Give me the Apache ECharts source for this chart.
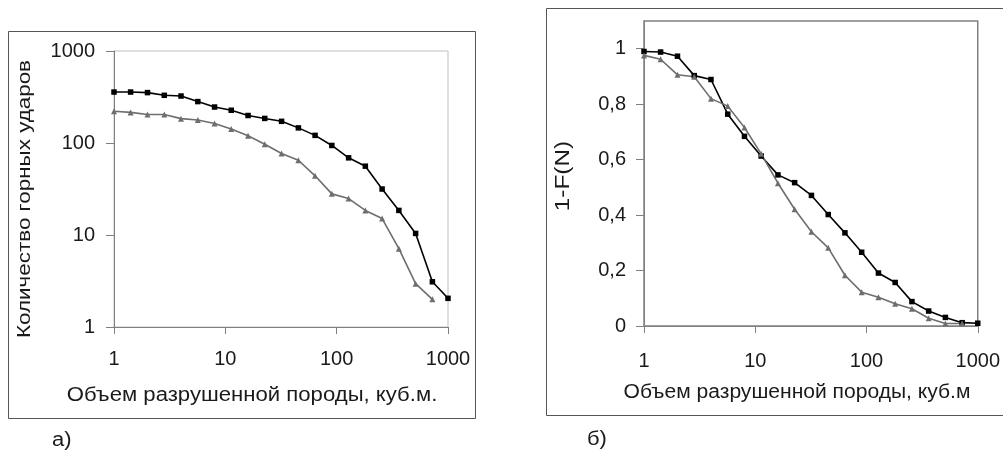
<!DOCTYPE html>
<html><head><meta charset="utf-8">
<script src="https://cdn.jsdelivr.net/npm/echarts@6/dist/echarts.min.js"></script>
<style>html,body{margin:0;padding:0;background:#fff}#c{width:1003px;height:451px}</style>
</head><body><div id="c"></div>
<script>
// x values (volume, cubic m)
const xVals = [1, 1.41, 2, 2.83, 4, 5.66, 8, 11.3, 16, 22.6, 32, 45.3, 64, 90.5, 128, 181, 256, 362, 512, 724, 1000];
// chart a) counts of rock bursts (log scale)
const countBlack = [358, 358, 353, 330, 324, 282, 246, 227, 199, 185, 172, 146, 121, 94, 69, 56, 31.6, 18.5, 10.4, 3.1, 2.05];
const countGray  = [221, 215, 204, 204, 184, 178, 163, 142, 120, 97, 77, 65, 44, 28, 24.9, 18.5, 15.1, 7.1, 2.96, 2.0];
// chart б) 1-F(N)
const survBlack = [0.99, 0.988, 0.973, 0.903, 0.889, 0.764, 0.684, 0.613, 0.545, 0.517, 0.471, 0.402, 0.336, 0.266, 0.191, 0.157, 0.088, 0.054, 0.031, 0.012, 0.01];
const survGray  = [0.976, 0.962, 0.906, 0.899, 0.82, 0.793, 0.716, 0.621, 0.515, 0.421, 0.34, 0.282, 0.183, 0.122, 0.104, 0.08, 0.062, 0.028, 0.009, 0.009];
const yTicksB = [0, 0.2, 0.4, 0.6, 0.8, 1];
const titleX_A = 'Объем разрушенной породы, куб.м.';
const titleY_A = 'Количество горных ударов';
const titleX_B = 'Объем разрушенной породы, куб.м';
const titleY_B = '1-F(N)';
const panelA = 'а)';
const panelB = 'б)';

const pair = (xs, ys) => ys.map((v, i) => [xs[i], v]);
const FONT = 'Liberation Sans';
const TXT = '#1a1a1a';

const chart = echarts.init(document.getElementById('c'), null, {renderer: 'canvas'});

function logX(grid) {
  return {
    type: 'log', logBase: 10, min: 1, max: 1000, gridIndex: grid,
    axisLine: {show: true, lineStyle: {color: '#808080', width: 1}},
    axisTick: {show: true, length: 7, inside: false, lineStyle: {color: '#808080'}},
    axisLabel: {fontFamily: FONT, fontSize: 20, color: TXT, margin: grid === 0 ? 22 : 25,
      formatter: v => String(Math.round(v))},
    splitLine: {show: false}, minorTick: {show: false}
  };
}
function mkSeries(data, grid, black) {
  return {
    type: 'line', xAxisIndex: grid, yAxisIndex: grid, data: data,
    symbol: black ? 'rect' : 'triangle', symbolSize: black ? 5.5 : 6,
    clip: false, animation: false,
    lineStyle: {color: black ? '#000' : '#6e6e6e', width: 1.6},
    itemStyle: {color: black ? '#000' : '#6e6e6e'}
  };
}
function txt(text, x, y, size, sx, rot, align) {
  return {type: 'text', x: x, y: y, rotation: rot || 0, scaleX: sx, scaleY: 1, silent: true,
    style: {text: text, fontFamily: FONT, fontSize: size, fill: TXT,
      textAlign: align || 'center', textVerticalAlign: 'middle'}};
}

chart.setOption({
  animation: false,
  backgroundColor: '#fff',
  grid: [
    {left: 114, top: 51, width: 334, height: 276, show: true, borderColor: '#c0c0c0', borderWidth: 1},
    {left: 644, top: 21, width: 336, height: 305, show: true, borderColor: '#808080', borderWidth: 1.5}
  ],
  xAxis: [logX(0), logX(1)],
  yAxis: [
    {
      type: 'log', logBase: 10, min: 1, max: 1000, gridIndex: 0,
      axisLine: {show: true, lineStyle: {color: '#808080'}},
      axisTick: {show: true, length: 8, lineStyle: {color: '#808080'}},
      axisLabel: {fontFamily: FONT, fontSize: 20, color: TXT, margin: 19, formatter: v => String(Math.round(v))},
      splitLine: {show: false}
    },
    {
      type: 'value', min: 0, max: 1.1, interval: 0.2, gridIndex: 1,
      axisLine: {show: true, lineStyle: {color: '#808080'}},
      axisTick: {show: true, length: 8, lineStyle: {color: '#808080'}, customValues: yTicksB},
      axisLabel: {fontFamily: FONT, fontSize: 20, color: TXT, margin: 18, customValues: yTicksB,
        formatter: v => String(Math.round(v * 10) / 10).replace('.', ',')},
      splitLine: {show: false}
    }
  ],
  series: [
    mkSeries(pair(xVals, countBlack), 0, true),
    mkSeries(pair(xVals, countGray), 0, false),
    mkSeries(pair(xVals, survBlack), 1, true),
    mkSeries(pair(xVals, survGray), 1, false)
  ],
  graphic: [
    {type: 'rect', shape: {x: 8.5, y: 31.5, width: 467, height: 387}, style: {fill: 'none', stroke: '#555', lineWidth: 1}, silent: true, z: -1},
    {type: 'rect', shape: {x: 546.5, y: 8.5, width: 470, height: 407}, style: {fill: 'none', stroke: '#555', lineWidth: 1}, silent: true, z: -1},
    txt(titleX_A, 252, 396, 19.5, 1.135, 0),
    txt(titleY_A, 25, 199, 19, 1.18, Math.PI / 2),
    txt(titleX_B, 797, 392.5, 19.5, 1.08, 0),
    txt(titleY_B, 564, 176, 19.5, 1.25, Math.PI / 2),
    txt(panelA, 52, 440, 20, 1.1, 0, 'left'),
    txt(panelB, 587, 439, 20, 1.1, 0, 'left')
  ]
});
</script></body></html>
